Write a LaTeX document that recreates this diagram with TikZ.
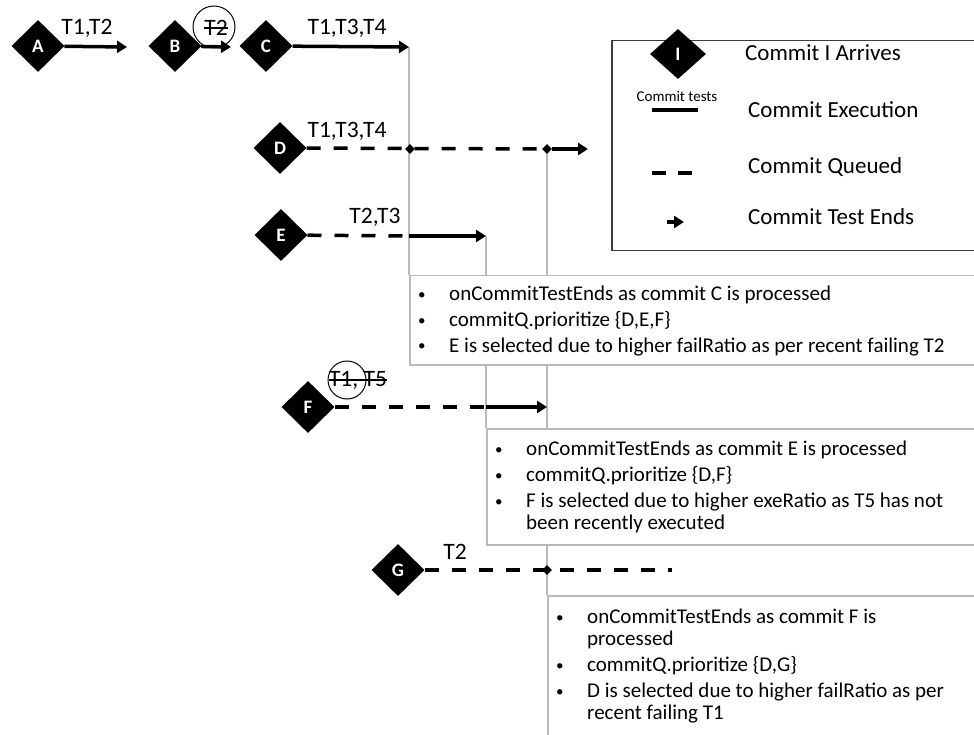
\documentclass[tikz,border=0pt]{standalone}
\usepackage{fontspec}
\setmainfont{Carlito}
\usetikzlibrary{shapes.geometric,arrows.meta}
\definecolor{calgray}{RGB}{185,185,185}
\definecolor{leggray}{RGB}{60,60,60}
\newcommand{\bul}{\makebox[31pt][l]{\raisebox{1pt}{\fontsize{15}{15}\selectfont\textbullet}}}
\begin{document}
\begin{tikzpicture}[x=1pt,y=-1pt,
 cdiam/.style={diamond, fill=black, inner sep=0pt, minimum width=53pt, minimum height=52pt, text=white, font=\fontsize{19}{19}\selectfont\bfseries},
 tdot/.style={diamond, fill=black, inner sep=0pt, minimum size=10pt},
 exec/.style={line width=3.5pt, -{Triangle[length=10pt,width=12pt]}},
 execplain/.style={line width=3.5pt},
 queued/.style={line width=3.5pt, dash pattern=on 14pt off 13pt},
 lbl/.style={font=\fontsize{23.5}{23.5}\selectfont, inner sep=0pt},
 strike/.style={line width=1.2pt},
 ring/.style={draw, circle, line width=1pt, inner sep=0pt},
 callout/.style={draw=calgray, line width=1.5pt},
 box/.style={draw=calgray, line width=1.5pt, fill=white, inner sep=0pt},
 boxtext/.style={anchor=base west, inner sep=0pt, font=\fontsize{21}{22}\selectfont},
 legtext/.style={anchor=base west, inner sep=0pt, font=\fontsize{23}{23}\selectfont}]
\useasboundingbox (0,0) rectangle (974,735);
\clip (0,0) rectangle (974,735);

% key coordinates
\coordinate (Aend) at (127,47);
\coordinate (Bend) at (231,47);
\coordinate (Cend) at (409,47);
\coordinate (Dend) at (588,149);
\coordinate (Emid) at (409,236);
\coordinate (Eend) at (486,236);
\coordinate (Fmid) at (486,407);
\coordinate (Fend) at (547,407);
\coordinate (Gend) at (672,570);
\coordinate (D2c) at (547,149);

% callout lines (behind boxes)
\draw[callout] (Cend) -- (409,275);
\draw[callout] (Eend) -- (486,428);
\draw[callout] (D2c) -- (547,595);

% legend box
\node[draw=leggray, line width=1.5pt, fill=white, inner sep=0pt, anchor=north west,
      minimum width=380pt, minimum height=210pt] (legend) at (611,40) {};

% callout boxes
\node[box, anchor=north west, minimum width=600pt, minimum height=89pt] (b1) at (409,275) {};
\node[box, anchor=north west, minimum width=600pt, minimum height=116pt] (b2) at (486,428) {};
\node[box, anchor=north west, minimum width=600pt, minimum height=205pt] (b3) at (547,595) {};

% commits
\node[cdiam] (A) at (38,46) {A};
\node[cdiam] (B) at (175,46) {B};
\node[cdiam] (C) at (266,46) {C};
\node[cdiam] (D) at (280,148) {D};
\node[cdiam] (E) at (281,235) {E};
\node[cdiam] (F) at (308,407) {F};
\node[cdiam] (G) at (398,570) {G};

% lines
\draw[exec] (A) -- (Aend);
\draw[exec] (B) -- (Bend);
\draw[exec] (C) -- (Cend);
\draw[queued] (D) -- (D2c);
\node[tdot] (D1) at (410,149) {};
\node[tdot] (D2) at (D2c) {};
\draw[exec] (D2) -- (Dend);
\draw[queued] (E) -- (Emid);
\draw[exec] (Emid) -- (Eend);
\draw[queued] (F) -- (Fmid);
\draw[exec] (Fmid) -- (Fend);
\draw[queued] (G) -- (Gend);
\node[tdot] (G2) at (547,570) {};

% labels
\node[lbl] (la) at (87,28) {T1,T2};
\node[lbl] (lb) at (216,28) {T2};
\draw[strike] (lb.west) -- (lb.east);
\node[ring, minimum size=42pt] (rb) at (214,27) {};
\node[lbl] (lc) at (347,28) {T1,T3,T4};
\node[lbl] (ld) at (347,131) {T1,T3,T4};
\node[lbl] (le) at (375,217) {T2,T3};
\node[lbl] (lf) at (358,380) {T1, T5};
\draw[strike] (lf.west) -- (lf.east);
\node[ring, minimum size=38pt] (rf) at (347,380) {};
\node[lbl] (lg) at (455,552) {T2};

% box texts
\node[boxtext] (t1) at (418,300) {\begin{tabular}[t]{@{}l@{}l@{}}
\bul & onCommitTestEnds as commit C is processed\\[4pt]
\bul & commitQ.prioritize {\{}D,E,F{\}}\\[4pt]
\bul & E is selected due to higher failRatio as per recent failing T2
\end{tabular}};
\node[boxtext] (t2) at (495,455) {\begin{tabular}[t]{@{}l@{}l@{}}
\bul & onCommitTestEnds as commit E is processed\\[4pt]
\bul & commitQ.prioritize {\{}D,F{\}}\\[4pt]
\bul & F is selected due to higher exeRatio as T5 has not\\
 & been recently executed
\end{tabular}};
\node[boxtext] (t3) at (556,623) {\begin{tabular}[t]{@{}l@{}l@{}}
\bul & onCommitTestEnds as commit F is\\
 & processed\\[4pt]
\bul & commitQ.prioritize {\{}D,G{\}}\\[4pt]
\bul & D is selected due to higher failRatio as per\\
 & recent failing T1
\end{tabular}};

% legend contents
\node[cdiam, minimum width=56pt, minimum height=50pt] (I) at (678,54) {I};
\node[legtext] (l1) at (745,61) {Commit I Arrives};
\node[inner sep=0pt, font=\fontsize{15}{15}\selectfont] (lt) at (677,96) {Commit tests};
\coordinate (ex1) at (652,110);
\coordinate (ex2) at (698,110);
\draw[execplain] (ex1) -- (ex2);
\node[legtext] (l2) at (748,118) {Commit Execution};
\coordinate (q1) at (652,173);
\coordinate (q2) at (694,173);
\draw[line width=3.5pt, dash pattern=on 14pt off 12pt] (q1) -- (q2);
\node[legtext] (l3) at (748,174) {Commit Queued};
\coordinate (ar1) at (667,222);
\coordinate (ar2) at (684,222);
\draw[exec] (ar1) -- (ar2);
\node[legtext] (l4) at (748,225) {Commit Test Ends};
\end{tikzpicture}
\end{document}
